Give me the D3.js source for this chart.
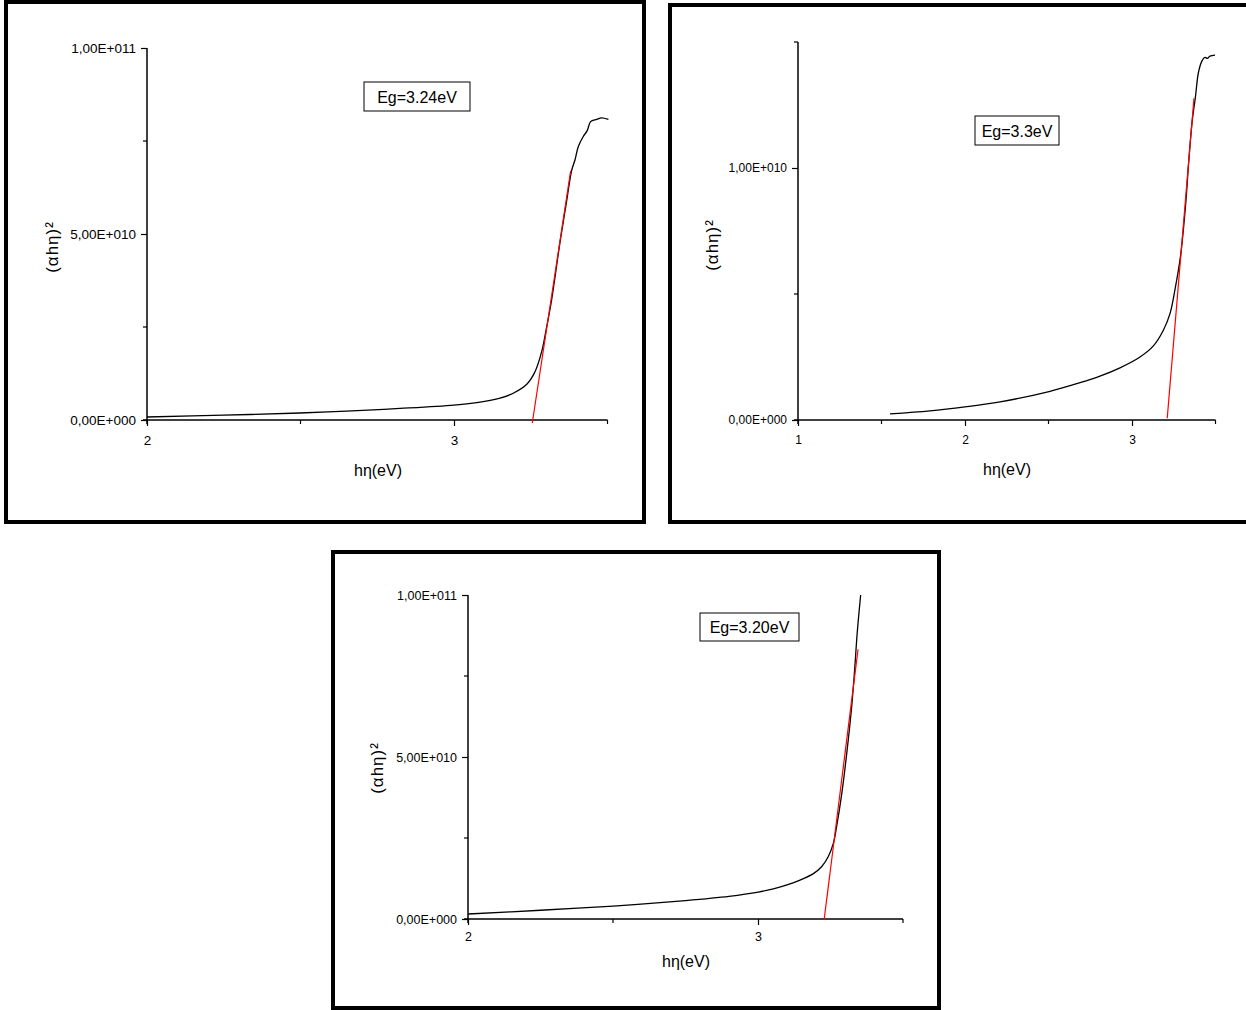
<!DOCTYPE html>
<html>
<head>
<meta charset="utf-8">
<script src="https://cdn.jsdelivr.net/npm/d3@7"></script>
<style>
  html, body { margin: 0; padding: 0; background: #fff; }
  svg { display: block; font-family: "Liberation Sans", Arial, sans-serif; }
</style>
</head>
<body>
<svg id="chart" width="1246" height="1010"></svg>
<script>
// Tauc plots: (alpha h nu)^2 versus photon energy for three films

// Film A
const energyA = [2.000, 2.250, 2.498, 2.650, 2.824, 3.000, 3.085, 3.150, 3.193, 3.237, 3.264, 3.286, 3.302, 3.318, 3.345, 3.369, 3.383, 3.394, 3.405, 3.421, 3.434, 3.445, 3.465, 3.480, 3.503];
const signalA = [0.81e9, 1.3e9, 1.88e9, 2.4e9, 3.1e9, 4.0e9, 4.8e9, 5.9e9, 7.2e9, 9.6e9, 1.30e10, 1.85e10, 2.51e10, 3.23e10, 4.76e10, 6.00e10, 6.70e10, 6.99e10, 7.35e10, 7.62e10, 7.78e10, 8.02e10, 8.08e10, 8.12e10, 8.08e10];
const fitEnergyA = [3.255, 3.380];
const fitSignalA = [-0.8e9, 6.70e10];
const yTicksA = [0, 5e10, 1e11];
const yTickLabelsA = ["0,00E+000", "5,00E+010", "1,00E+011"];
const yMinorA = [2.5e10, 7.5e10];
const xTicksA = [2, 3];
const xMinorA = [2.5, 3.5];
const gapLabelA = "Eg=3.24eV";

// Film B
const energyB = [1.551, 1.790, 2.000, 2.210, 2.503, 2.689, 2.808, 2.928, 3.048, 3.128, 3.187, 3.228, 3.257, 3.290, 3.320, 3.339, 3.359, 3.380, 3.397, 3.417, 3.437, 3.451, 3.467, 3.497];
const signalB = [0.024e10, 0.036e10, 0.052e10, 0.072e10, 0.113e10, 0.148e10, 0.174e10, 0.207e10, 0.250e10, 0.294e10, 0.355e10, 0.423e10, 0.516e10, 0.648e10, 0.846e10, 1.019e10, 1.177e10, 1.283e10, 1.376e10, 1.422e10, 1.439e10, 1.435e10, 1.444e10, 1.448e10];
const fitEnergyB = [3.211, 3.371];
const fitSignalB = [0.007e10, 1.277e10];
const yTicksB = [0, 1e10];
const yTickLabelsB = ["0,00E+000", "1,00E+010"];
const yMinorB = [0.5e10, 1.5e10];
const xTicksB = [1, 2, 3];
const xMinorB = [1.5, 2.5, 3.5];
const gapLabelB = "Eg=3.3eV";

// Film C
const energyC = [2.001, 2.250, 2.501, 2.750, 2.900, 3.001, 3.053, 3.100, 3.145, 3.191, 3.220, 3.242, 3.260, 3.271, 3.289, 3.306, 3.323, 3.334, 3.342, 3.354];
const signalC = [1.54e9, 2.7e9, 4.0e9, 5.7e9, 7.0e9, 8.3e9, 9.3e9, 1.05e10, 1.20e10, 1.40e10, 1.62e10, 1.92e10, 2.34e10, 2.85e10, 3.88e10, 5.11e10, 6.55e10, 7.79e10, 8.82e10, 1.00e11];
const fitEnergyC = [3.228, 3.345];
const fitSignalC = [-0.3e9, 8.32e10];
const yTicksC = [0, 5e10, 1e11];
const yTickLabelsC = ["0,00E+000", "5,00E+010", "1,00E+011"];
const yMinorC = [2.5e10, 7.5e10];
const xTicksC = [2, 3];
const xMinorC = [2.5, 3.5];
const gapLabelC = "Eg=3.20eV";

const yTitle = "(\u03B1h\u03B7)\u00B2";
const xTitle = "h\u03B7(eV)";

const svg = d3.select("#chart");

function drawPanel(p) {
  const g = svg.append("g");

  // thick frame around the panel
  g.append("rect")
    .attr("x", p.frame[0]).attr("y", p.frame[1])
    .attr("width", p.frame[2]).attr("height", p.frame[3])
    .attr("fill", "none").attr("stroke", "#000").attr("stroke-width", 4);

  const x = d3.scaleLinear().domain(p.xDomain).range(p.xRange);
  const y = d3.scaleLinear().domain(p.yDomain).range(p.yRange);

  // x axis: major labelled ticks
  const xAxis = d3.axisBottom(x).tickValues(p.xTicks).tickSize(6).tickPadding(p.xPad)
    .tickFormat(d3.format("d"));
  const gx = g.append("g").attr("transform", `translate(0,${p.yRange[0]})`).call(xAxis);
  gx.select(".domain").attr("d", `M${p.xRange[0] - 4},0H${p.xRange[1]}`).attr("stroke-width", 1.5);
  // minor ticks
  gx.selectAll(".minor").data(p.xMinor).enter().append("line")
    .attr("x1", d => x(d)).attr("x2", d => x(d)).attr("y1", 0).attr("y2", 4)
    .attr("stroke", "#000").attr("stroke-width", 1.2);

  // y axis
  const yAxis = d3.axisLeft(y).tickValues(p.yTicks).tickSize(6).tickPadding(5)
    .tickFormat((d, i) => p.yTickLabels[i]);
  const gy = g.append("g").attr("transform", `translate(${p.xRange[0]},0)`).call(yAxis);
  gy.select(".domain").attr("d", `M0,${p.yRange[0] + 4}V${p.yRange[1]}`).attr("stroke-width", 1.5);
  gy.selectAll(".minor").data(p.yMinor).enter().append("line")
    .attr("x1", 0).attr("x2", -4).attr("y1", d => y(d)).attr("y2", d => y(d))
    .attr("stroke", "#000").attr("stroke-width", 1.2);

  [gx, gy].forEach(a => {
    a.selectAll(".tick line").attr("stroke-width", 1.2);
    a.selectAll("text").attr("font-size", p.tickFont).attr("fill", "#000")
      .attr("font-family", "Liberation Sans, Arial, sans-serif");
  });

  // data curve
  const line = d3.line().x(d => x(d[0])).y(d => y(d[1])).curve(d3.curveCatmullRom.alpha(0.5));
  g.append("path")
    .datum(p.energy.map((e, i) => [e, p.signal[i]]))
    .attr("d", line).attr("fill", "none").attr("stroke", "#000").attr("stroke-width", 1.3);

  // linear extrapolation to the energy axis
  g.append("path")
    .datum(p.fitE.map((e, i) => [e, p.fitS[i]]))
    .attr("d", d3.line().x(d => x(d[0])).y(d => y(d[1])))
    .attr("fill", "none").attr("stroke", "#ff0000").attr("stroke-width", 1.2);

  // axis titles
  g.append("text")
    .attr("transform", `translate(${p.yTitlePos[0]},${p.yTitlePos[1]}) rotate(-90)`)
    .attr("text-anchor", "middle").attr("font-size", 17).attr("letter-spacing", 1).text(yTitle);
  g.append("text")
    .attr("x", p.xTitlePos[0]).attr("y", p.xTitlePos[1])
    .attr("text-anchor", "middle").attr("font-size", 16).text(xTitle);

  // band gap label box
  const lb = p.labelBox;
  g.append("rect").attr("x", lb[0]).attr("y", lb[1]).attr("width", lb[2]).attr("height", lb[3])
    .attr("fill", "#fff").attr("stroke", "#000").attr("stroke-width", 1);
  g.append("text").attr("x", lb[0] + lb[2] / 2).attr("y", lb[1] + lb[3] / 2 + 6)
    .attr("text-anchor", "middle").attr("font-size", 16).text(p.label);
}

drawPanel({
  frame: [6, 2, 638, 520],
  xDomain: [2, 3.5], xRange: [147, 607.5],
  yDomain: [0, 1e11], yRange: [420, 48],
  xTicks: xTicksA, xMinor: xMinorA, yTicks: yTicksA, yTickLabels: yTickLabelsA, yMinor: yMinorA,
  energy: energyA, signal: signalA, fitE: fitEnergyA, fitS: fitSignalA,
  tickFont: 13.5, xPad: 9,
  yTitlePos: [58, 247], xTitlePos: [378, 476],
  labelBox: [364, 82, 106, 29], label: gapLabelA
});

drawPanel({
  frame: [670, 5, 600, 517],
  xDomain: [1, 3.5], xRange: [798, 1215.5],
  yDomain: [0, 1.5e10], yRange: [420, 42],
  xTicks: xTicksB, xMinor: xMinorB, yTicks: yTicksB, yTickLabels: yTickLabelsB, yMinor: yMinorB,
  energy: energyB, signal: signalB, fitE: fitEnergyB, fitS: fitSignalB,
  tickFont: 12, xPad: 9,
  yTitlePos: [718, 245], xTitlePos: [1007, 475],
  labelBox: [975, 116, 84, 29], label: gapLabelB
});

drawPanel({
  frame: [333, 552, 606, 456],
  xDomain: [2, 3.5], xRange: [468, 903],
  yDomain: [0, 1e11], yRange: [919, 595],
  xTicks: xTicksC, xMinor: xMinorC, yTicks: yTicksC, yTickLabels: yTickLabelsC, yMinor: yMinorC,
  energy: energyC, signal: signalC, fitE: fitEnergyC, fitS: fitSignalC,
  tickFont: 12.5, xPad: 7,
  yTitlePos: [383, 768], xTitlePos: [686, 967],
  labelBox: [700, 613, 99, 28], label: gapLabelC
});
</script>
</body>
</html>
